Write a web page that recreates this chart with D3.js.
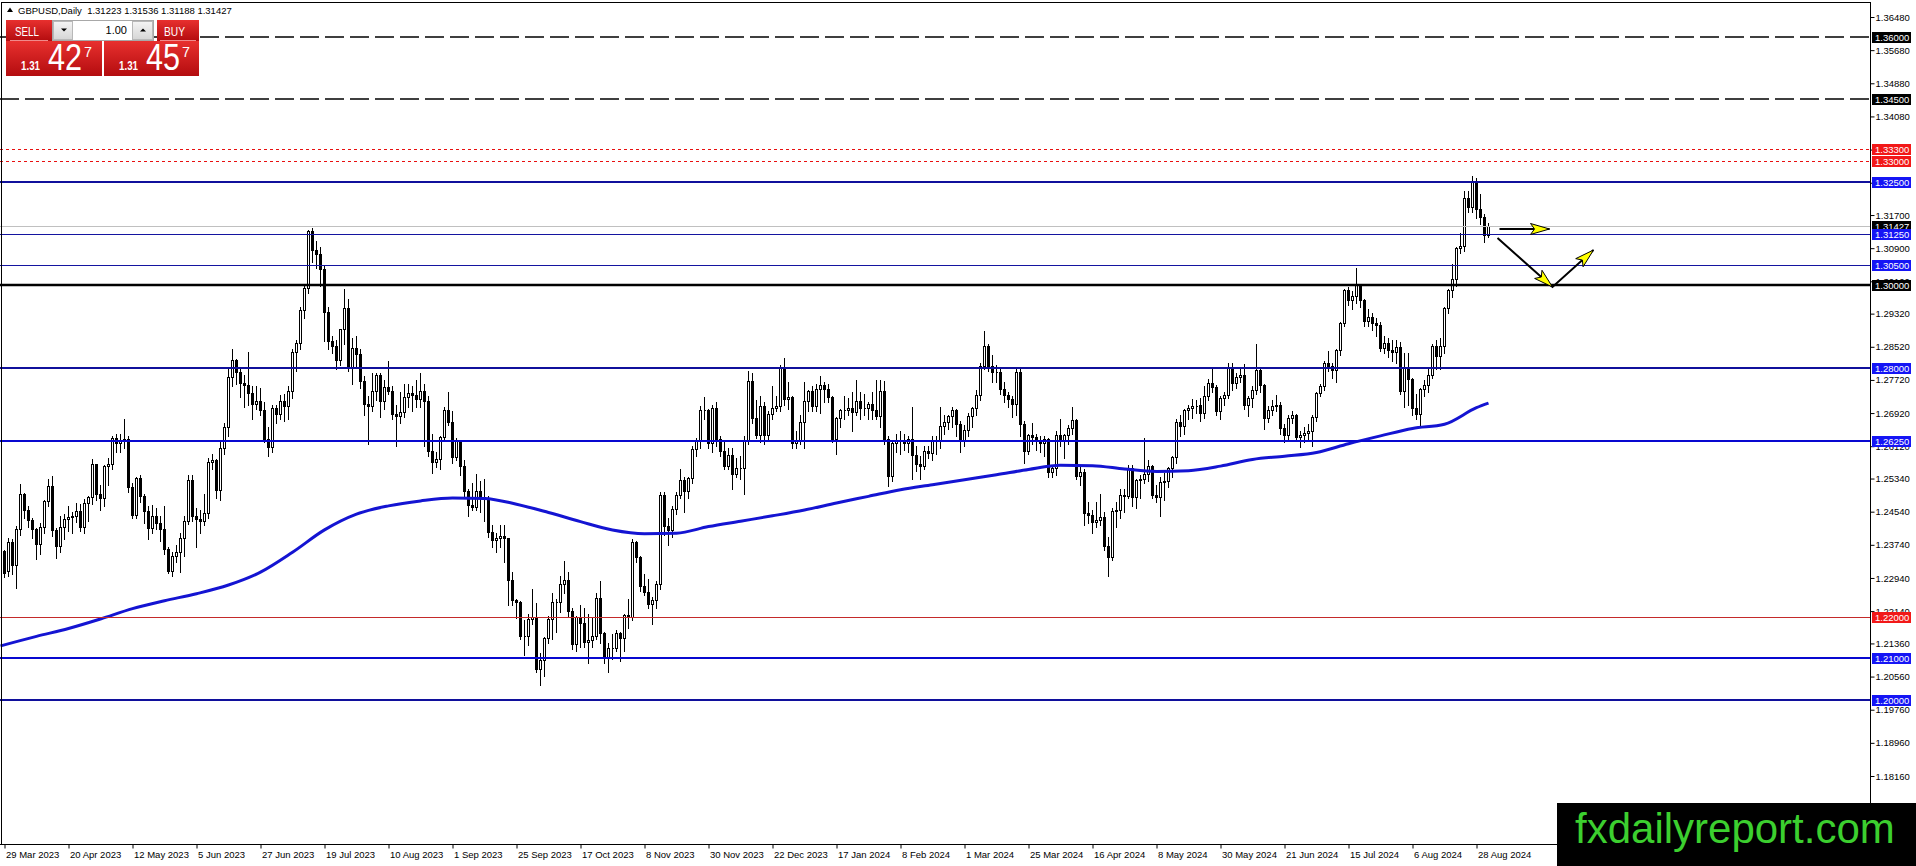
<!DOCTYPE html>
<html>
<head>
<meta charset="utf-8">
<script src="https://cdn.jsdelivr.net/npm/d3@7"></script>
<style>
  body { margin: 0; background: #fff; }
  svg { display: block; }
  text { font-family: "Liberation Sans", Arial, sans-serif; }
</style>
</head>
<body>
<svg id="chart" width="1916" height="866"></svg>
<script>
// GBPUSD daily, 29 Mar 2023 .. 2 Sep 2024, values in pips (price = 1 + v * 0.0001)
var PIP = 0.0001;

var opens = [
  2358,2310,2380,2325,2412,2496,2458,2434,2412,2375,
  2418,2479,2516,2409,2372,2418,2436,2440,2443,2455,
  2418,2475,2490,2568,2496,2486,2565,2568,2632,2619,
  2627,2630,2513,2446,2535,2493,2455,2415,2443,2427,
  2413,2363,2311,2347,2356,2391,2431,2530,2444,2437,
  2432,2450,2575,2578,2506,2607,2659,2780,2820,2790,
  2765,2760,2740,2715,2720,2700,2630,2610,2705,2690,
  2720,2710,2745,2840,2860,2940,2993,3132,3085,3075,
  3040,2935,2865,2855,2820,2895,2945,2800,2850,2835,
  2770,2715,2710,2745,2785,2720,2755,2745,2690,2685,
  2695,2730,2740,2735,2725,2745,2720,2600,2575,2580,
  2635,2700,2670,2585,2625,2565,2505,2470,2465,2505,
  2490,2485,2405,2385,2390,2395,2390,2290,2240,2235,
  2155,2155,2195,2200,2075,2095,2150,2195,2235,2235,
  2280,2290,2215,2135,2200,2185,2140,2145,2155,2245,
  2160,2100,2125,2125,2160,2150,2205,2200,2380,2345,
  2275,2260,2230,2240,2280,2495,2420,2410,2460,2495,
  2530,2505,2535,2605,2625,2700,2700,2620,2705,2630,
  2600,2565,2590,2545,2560,2560,2625,2770,2680,2640,
  2710,2640,2690,2705,2710,2800,2725,2730,2620,2625,
  2670,2720,2745,2710,2750,2760,2750,2730,2630,2680,
  2700,2700,2705,2695,2720,2705,2705,2715,2700,2685,
  2745,2630,2540,2620,2625,2628,2620,2630,2590,2570,
  2565,2600,2595,2625,2628,2660,2670,2685,2700,2665,
  2625,2650,2685,2705,2735,2805,2855,2805,2790,2792,
  2750,2735,2725,2715,2790,2665,2600,2640,2635,2625,
  2620,2630,2550,2560,2640,2625,2640,2655,2675,2540,
  2550,2450,2445,2430,2435,2440,2370,2345,2455,2458,
  2495,2493,2560,2490,2530,2532,2545,2565,2495,2490,
  2525,2528,2560,2585,2670,2660,2700,2705,2708,2712,
  2692,2732,2764,2756,2696,2728,2736,2800,2764,2780,
  2784,2712,2728,2748,2796,2760,2680,2700,2708,2712,
  2655,2640,2680,2688,2635,2640,2645,2648,2683,2740,
  2758,2812,2805,2795,2845,2910,2990,2965,2975,3000,
  2965,2915,2925,2910,2905,2850,2860,2845,2840,2852,
  2745,2800,2775,2705,2690,2750,2760,2785,2855,2830,
  2855,2945,2990,3015,3090,3095,3212,3190,3250,3185,
  3165,3122
];

var highs = [
  2365,2392,2390,2422,2523,2502,2470,2440,2418,2428,
  2485,2535,2543,2418,2447,2450,2471,2456,2477,2475,
  2486,2495,2583,2570,2520,2570,2586,2640,2645,2645,
  2680,2640,2525,2540,2545,2500,2470,2472,2465,2447,
  2470,2370,2360,2375,2405,2445,2545,2545,2465,2460,
  2500,2585,2595,2583,2625,2670,2800,2848,2825,2800,
  2786,2842,2760,2760,2755,2720,2660,2715,2715,2738,
  2740,2760,2848,2870,2950,3000,3137,3142,3110,3095,
  3050,2950,2880,2870,2898,2995,2970,2875,2880,2850,
  2785,2735,2790,2790,2790,2775,2820,2760,2715,2745,
  2765,2765,2760,2775,2790,2765,2735,2645,2600,2640,
  2710,2745,2700,2635,2630,2580,2510,2525,2548,2530,
  2535,2495,2425,2405,2425,2425,2392,2310,2245,2240,
  2195,2210,2270,2235,2115,2155,2205,2260,2245,2300,
  2337,2310,2225,2205,2230,2225,2210,2200,2260,2290,
  2165,2140,2160,2170,2165,2210,2245,2390,2385,2350,
  2305,2295,2250,2290,2505,2505,2440,2470,2505,2560,
  2540,2540,2615,2635,2712,2733,2705,2715,2720,2640,
  2630,2610,2610,2585,2590,2640,2795,2790,2725,2735,
  2720,2700,2760,2735,2810,2827,2770,2736,2650,2690,
  2770,2750,2760,2765,2785,2770,2765,2735,2685,2705,
  2735,2730,2745,2775,2745,2740,2720,2745,2775,2775,
  2772,2640,2630,2645,2650,2645,2640,2710,2615,2590,
  2615,2615,2640,2640,2710,2690,2690,2710,2705,2675,
  2665,2695,2710,2750,2815,2893,2860,2835,2810,2800,
  2770,2745,2735,2805,2805,2675,2645,2670,2645,2640,
  2640,2635,2570,2650,2680,2645,2665,2710,2680,2570,
  2560,2480,2460,2480,2500,2455,2395,2465,2480,2510,
  2510,2570,2570,2535,2545,2635,2580,2570,2520,2540,
  2550,2565,2590,2680,2690,2705,2715,2728,2725,2730,
  2760,2776,2800,2762,2735,2745,2816,2815,2790,2800,
  2812,2735,2760,2860,2800,2765,2712,2725,2738,2720,
  2668,2690,2700,2692,2650,2660,2668,2690,2745,2765,
  2820,2845,2815,2850,2915,2995,2998,2990,3044,3005,
  2970,2945,2935,2925,2915,2880,2875,2870,2870,2865,
  2840,2840,2780,2740,2755,2775,2800,2862,2870,2875,
  2950,2995,3054,3095,3130,3230,3230,3266,3262,3222,
  3175,3154
];

var lows = [
  2298,2300,2305,2273,2400,2440,2420,2393,2342,2355,
  2405,2470,2398,2345,2360,2390,2410,2405,2432,2410,
  2405,2435,2475,2484,2460,2470,2520,2560,2600,2600,
  2610,2505,2440,2440,2480,2430,2390,2405,2415,2385,
  2355,2308,2300,2335,2310,2349,2426,2434,2370,2405,
  2425,2440,2560,2490,2485,2595,2640,2760,2765,2734,
  2710,2715,2680,2705,2690,2625,2590,2600,2670,2680,
  2675,2680,2730,2795,2850,2925,2985,3060,3045,3000,
  2868,2850,2840,2800,2810,2860,2795,2765,2805,2755,
  2690,2620,2700,2725,2685,2705,2740,2680,2615,2670,
  2685,2710,2700,2710,2710,2615,2590,2550,2565,2560,
  2630,2665,2575,2580,2545,2490,2445,2460,2460,2455,
  2435,2395,2370,2360,2370,2335,2230,2230,2200,2150,
  2110,2135,2185,2070,2037,2060,2140,2150,2165,2215,
  2260,2205,2125,2120,2130,2130,2090,2130,2150,2140,
  2090,2070,2100,2120,2095,2120,2175,2195,2335,2265,
  2255,2225,2186,2225,2270,2400,2375,2395,2450,2490,
  2455,2490,2525,2590,2610,2680,2610,2600,2615,2590,
  2560,2560,2510,2540,2535,2500,2620,2670,2635,2625,
  2620,2630,2680,2700,2700,2715,2705,2610,2610,2620,
  2610,2700,2700,2700,2695,2720,2720,2625,2595,2660,
  2680,2690,2650,2690,2680,2690,2680,2680,2680,2660,
  2620,2518,2530,2600,2595,2605,2600,2535,2555,2535,
  2560,2585,2580,2595,2610,2645,2655,2660,2640,2600,
  2615,2640,2660,2690,2725,2800,2795,2770,2770,2740,
  2720,2710,2685,2690,2640,2575,2595,2620,2605,2600,
  2590,2540,2540,2545,2615,2585,2620,2645,2535,2520,
  2425,2430,2405,2420,2425,2365,2300,2340,2420,2440,
  2455,2490,2470,2465,2490,2525,2530,2490,2480,2445,
  2485,2515,2540,2575,2640,2643,2680,2683,2695,2676,
  2683,2725,2745,2690,2680,2715,2730,2750,2755,2770,
  2705,2688,2710,2740,2745,2655,2672,2690,2700,2645,
  2624,2630,2670,2630,2613,2625,2630,2615,2675,2735,
  2750,2795,2780,2770,2835,2905,2955,2945,2960,2950,
  2905,2905,2895,2880,2845,2840,2830,2820,2815,2740,
  2710,2715,2690,2680,2665,2735,2745,2780,2800,2800,
  2840,2935,2975,3000,3080,3085,3180,3180,3165,3150,
  3108,3119
];

var closes = [
  2305,2380,2325,2412,2496,2458,2434,2412,2375,2418,
  2479,2516,2409,2372,2418,2436,2440,2443,2455,2418,
  2475,2490,2568,2496,2486,2565,2568,2632,2619,2627,
  2630,2513,2446,2535,2493,2455,2415,2443,2427,2413,
  2363,2311,2347,2356,2391,2431,2530,2444,2437,2432,
  2450,2575,2578,2506,2607,2659,2780,2820,2790,2765,
  2760,2740,2715,2720,2700,2630,2610,2705,2690,2720,
  2710,2745,2840,2860,2940,2993,3132,3085,3075,3040,
  2935,2865,2855,2820,2895,2945,2800,2850,2835,2770,
  2715,2710,2745,2785,2720,2755,2745,2690,2685,2695,
  2730,2740,2735,2725,2745,2720,2600,2575,2580,2635,
  2700,2670,2585,2625,2565,2505,2470,2465,2505,2490,
  2485,2405,2385,2390,2395,2390,2290,2240,2235,2155,
  2155,2195,2200,2075,2095,2150,2195,2235,2235,2280,
  2290,2215,2135,2200,2185,2140,2145,2155,2245,2160,
  2100,2125,2125,2160,2150,2205,2200,2380,2345,2275,
  2260,2230,2240,2280,2495,2420,2410,2460,2495,2530,
  2505,2535,2605,2625,2700,2700,2620,2705,2630,2600,
  2565,2590,2545,2560,2560,2625,2770,2680,2640,2710,
  2640,2690,2705,2710,2800,2725,2730,2620,2625,2670,
  2720,2745,2710,2750,2760,2750,2730,2630,2680,2700,
  2700,2705,2695,2720,2705,2705,2715,2700,2685,2745,
  2630,2540,2620,2625,2628,2620,2630,2590,2570,2565,
  2600,2595,2625,2628,2660,2670,2685,2700,2665,2625,
  2650,2685,2705,2735,2805,2855,2805,2790,2792,2750,
  2735,2725,2715,2790,2665,2600,2640,2635,2625,2620,
  2630,2550,2560,2640,2625,2640,2655,2675,2540,2550,
  2450,2445,2430,2435,2440,2370,2345,2455,2458,2495,
  2493,2560,2490,2530,2532,2545,2565,2495,2490,2525,
  2528,2560,2585,2670,2660,2700,2705,2708,2710,2692,
  2732,2764,2756,2696,2728,2736,2800,2764,2780,2784,
  2712,2728,2748,2796,2760,2680,2700,2708,2712,2655,
  2640,2680,2688,2635,2640,2645,2648,2683,2740,2758,
  2812,2805,2795,2845,2910,2990,2965,2975,3000,2965,
  2915,2925,2910,2905,2850,2860,2845,2840,2852,2745,
  2800,2775,2705,2690,2750,2760,2785,2855,2830,2855,
  2945,2990,3015,3090,3095,3212,3190,3250,3185,3165,
  3122,3143
];

// 200-day moving average: [bar, pips]
var ma200 = [
  [-1,2130],[8,2153],[16,2172],[24,2195],[32,2220],[40,2239],[48,2256],[56,2277],
  [64,2308],[72,2356],[80,2410],[88,2448],[96,2468],[104,2480],[112,2487],[120,2486],
  [128,2472],[136,2452],[144,2430],[152,2410],[160,2401],[168,2402],[176,2418],[184,2431],
  [192,2444],[200,2458],[208,2475],[216,2491],[224,2507],[232,2519],[240,2531],[248,2543],
  [256,2556],[264,2566],[272,2565],[280,2557],[288,2551],[296,2553],[304,2564],[312,2580],
  [320,2588],[328,2597],[336,2618],[344,2637],[352,2655],[360,2665],[368,2705],[371,2716]
];

var yTickLabels = ["1.36480","1.35680","1.34880","1.34080","1.33280","1.32480","1.31700","1.30900",
  "1.30100","1.29320","1.28520","1.27720","1.26920","1.26120","1.25340","1.24540","1.23740",
  "1.22940","1.22140","1.21360","1.20560","1.19760","1.18960","1.18160"];

var xTickBars = [0,16,32,48,64,80,96,112,128,144,160,176,192,208,224,240,256,272,288,304,320,336,352,368];
var xTickLabels = ["29 Mar 2023","20 Apr 2023","12 May 2023","5 Jun 2023","27 Jun 2023","19 Jul 2023",
  "10 Aug 2023","1 Sep 2023","25 Sep 2023","17 Oct 2023","8 Nov 2023","30 Nov 2023","22 Dec 2023",
  "17 Jan 2024","8 Feb 2024","1 Mar 2024","25 Mar 2024","16 Apr 2024","8 May 2024","30 May 2024",
  "21 Jun 2024","15 Jul 2024","6 Aug 2024","28 Aug 2024"];

var levelPrices = [1.36000, 1.34500, 1.33300, 1.33000, 1.32500, 1.31250, 1.30500, 1.30000,
  1.28000, 1.26250, 1.22000, 1.21000, 1.20000];
var levelKinds = ["dash","dash","dot","dot","navy","thin","thin","black","navy","blue","red","blue","navy"];

var bidPrice = 1.31427;
var headerText = "GBPUSD,Daily  1.31223 1.31536 1.31188 1.31427";
var sellQuote = ["1.31", "42", "7"];
var buyQuote = ["1.31", "45", "7"];
var lotSize = "1.00";

// drawn arrows, as [bar, price] points
var arrowPaths = [
  [[373.75, 1.31363], [386.25, 1.31363]],
  [[373.25, 1.31146], [387.0, 1.29963], [397.25, 1.30856]]
];

var watermark = "fxdailyreport.com";

var levelStyle = {
  dash:  { stroke: "#000000", width: 1.6, dash: "19,6", label: "#000000" },
  dot:   { stroke: "#e81010", width: 1,   dash: "3,3",  label: "#f21818" },
  navy:  { stroke: "#10109c", width: 2.2, dash: null,   label: "#1515f5" },
  blue:  { stroke: "#0808d0", width: 2.2, dash: null,   label: "#1515f5" },
  thin:  { stroke: "#1414a0", width: 1,   dash: null,   label: "#1515f5" },
  black: { stroke: "#000000", width: 2.5, dash: null,   label: "#000000" },
  red:   { stroke: "#c42a2a", width: 1,   dash: null,   label: "#f21818" }
};

var W = 1916, H = 866;
var plotRight = 1870, plotTop = 3, plotBottom = 845;

var toPrice = function (v) { return 1 + v * PIP; };
var x = d3.scaleLinear().domain([0, 371]).range([4.5, 1488.5]);
var y = d3.scaleLinear().domain([1.3648, 1.1816]).range([17, 776]);
var py = function (p) { return Math.round(y(p)) + 0.5; };

var svg = d3.select("#chart");
svg.append("rect").attr("width", W).attr("height", H).attr("fill", "#fff");

var defs = svg.append("defs");
defs.append("clipPath").attr("id", "plotClip").append("rect")
    .attr("x", 0).attr("y", plotTop).attr("width", plotRight).attr("height", plotBottom - plotTop);
var grad = defs.append("linearGradient").attr("id", "redGrad")
    .attr("x1", 0).attr("y1", 0).attr("x2", 0).attr("y2", 1);
grad.append("stop").attr("offset", 0).attr("stop-color", "#e8302e");
grad.append("stop").attr("offset", 1).attr("stop-color", "#b30c0f");
var grey = defs.append("linearGradient").attr("id", "greyGrad")
    .attr("x1", 0).attr("y1", 0).attr("x2", 0).attr("y2", 1);
grey.append("stop").attr("offset", 0).attr("stop-color", "#f4f4f4");
grey.append("stop").attr("offset", 1).attr("stop-color", "#d6d6d6");

var plot = svg.append("g").attr("clip-path", "url(#plotClip)");

// candles
var n = Math.min(opens.length, highs.length, lows.length, closes.length);
var bars = d3.range(n).map(function (i) {
    return { i: i, o: toPrice(opens[i]), h: toPrice(highs[i]), l: toPrice(lows[i]), c: toPrice(closes[i]) };
});
var cg = plot.append("g").attr("shape-rendering", "crispEdges");
cg.selectAll("line.wick").data(bars).join("line")
    .attr("class", "wick")
    .attr("x1", function (d) { return x(d.i); })
    .attr("x2", function (d) { return x(d.i); })
    .attr("y1", function (d) { return py(d.h); })
    .attr("y2", function (d) { return py(d.l) + 1; })
    .attr("stroke", "#000");
cg.selectAll("path.body").data(bars).join("path")
    .attr("class", "body")
    .attr("d", function (d) {
        var t = py(Math.max(d.o, d.c)), b = py(Math.min(d.o, d.c)), cx = x(d.i);
        return "M" + (cx - 1) + "," + t + "H" + (cx + 1) + "V" + b + "H" + (cx - 1) + "Z";
    })
    .attr("fill", function (d) { return d.c >= d.o ? "#fff" : "#000"; })
    .attr("stroke", "#000");

// moving average
var maLine = d3.line()
    .x(function (d) { return x(d[0]); })
    .y(function (d) { return y(toPrice(d[1])); })
    .curve(d3.curveMonotoneX);
plot.append("path").attr("d", maLine(ma200))
    .attr("fill", "none").attr("stroke", "#1414d2").attr("stroke-width", 3)
    .attr("stroke-linejoin", "round");

// bid line
plot.append("line")
    .attr("x1", 0).attr("x2", plotRight)
    .attr("y1", py(bidPrice)).attr("y2", py(bidPrice))
    .attr("stroke", "#c0c0c0").attr("shape-rendering", "crispEdges");

// horizontal levels
levelPrices.forEach(function (p, k) {
    var st = levelStyle[levelKinds[k]];
    var yy = st.width % 2 === 1 ? py(p) : Math.round(y(p));
    var ln = plot.append("line")
        .attr("x1", 0).attr("x2", plotRight)
        .attr("y1", yy).attr("y2", yy)
        .attr("stroke", st.stroke).attr("stroke-width", st.width);
    if (st.dash) ln.attr("stroke-dasharray", st.dash);
});

// arrows
var ag = plot.append("g");
arrowPaths.forEach(function (pts) {
    var xy = pts.map(function (p) { return [x(p[0]), y(p[1])]; });
    ag.append("path").attr("d", d3.line()(xy))
        .attr("fill", "none").attr("stroke", "#000").attr("stroke-width", 2);
    for (var s = 1; s < xy.length; s++) {
        var a = xy[s - 1], b = xy[s];
        var dx = b[0] - a[0], dy = b[1] - a[1], len = Math.sqrt(dx * dx + dy * dy);
        var ux = dx / len, uy = dy / len, nx = -uy, ny = ux;
        var L = 19, w = 5.5, notch = 4;
        var head = [
            [b[0], b[1]],
            [b[0] - ux * L + nx * w, b[1] - uy * L + ny * w],
            [b[0] - ux * (L - notch), b[1] - uy * (L - notch)],
            [b[0] - ux * L - nx * w, b[1] - uy * L - ny * w]
        ];
        ag.append("path").attr("d", d3.line()(head) + "Z")
            .attr("fill", "#ffff00").attr("stroke", "#000").attr("stroke-width", 1)
            .attr("stroke-linejoin", "miter");
    }
});

// frame
svg.append("path")
    .attr("d", "M1.5," + plotBottom + "V2.5H" + (plotRight + 0.5) + "V" + plotBottom)
    .attr("fill", "none").attr("stroke", "#000").attr("shape-rendering", "crispEdges");

// price axis
var yAxis = d3.axisRight(y)
    .tickValues(yTickLabels.map(Number))
    .tickFormat(function (d, i) { return yTickLabels[i]; })
    .tickSize(4).tickPadding(1);
var yg = svg.append("g").attr("transform", "translate(" + (plotRight + 0.5) + ",0)").call(yAxis);
yg.select(".domain").remove();
yg.selectAll("text").attr("font-size", "9.5px").attr("fill", "#000")
    .attr("font-family", "'Liberation Sans', Arial, sans-serif");
yg.selectAll(".tick line").attr("stroke", "#000");

// time axis
var xAxis = d3.axisBottom(x)
    .tickValues(xTickBars)
    .tickFormat(function (d, i) { return xTickLabels[i]; })
    .tickSize(4).tickPadding(3);
var xg = svg.append("g").attr("transform", "translate(0," + (plotBottom - 0.5) + ")").call(xAxis);
xg.select(".domain").remove();
xg.selectAll("text").attr("font-size", "9.5px").attr("fill", "#000")
    .attr("text-anchor", "start").attr("x", 1)
    .attr("font-family", "'Liberation Sans', Arial, sans-serif");
xg.selectAll(".tick line").attr("stroke", "#000");
svg.append("line").attr("x1", 0).attr("x2", plotRight + 0.5)
    .attr("y1", plotBottom - 0.5).attr("y2", plotBottom - 0.5)
    .attr("stroke", "#000").attr("shape-rendering", "crispEdges");

// price labels on the axis
function priceTag(p, bg) {
    var yy = Math.round(y(p));
    svg.append("rect").attr("x", 1872).attr("y", yy - 5).attr("width", 39).attr("height", 11)
        .attr("fill", bg);
    svg.append("text").attr("x", 1875).attr("y", yy + 3.5)
        .attr("font-size", "9.5px").attr("fill", "#fff")
        .text(p.toFixed(5));
}
priceTag(bidPrice, "#000");
levelPrices.forEach(function (p, k) { priceTag(p, levelStyle[levelKinds[k]].label); });

// header
svg.append("path").attr("d", "M7,12L10,7.5L13,12Z").attr("fill", "#000");
svg.append("text").attr("x", 18).attr("y", 14).attr("font-size", "9.5px")
    .attr("fill", "#000").attr("xml:space", "preserve").style("white-space", "pre")
    .text(headerText);

// one-click trading panel
var panel = svg.append("g");
var narrow = "'Liberation Sans Narrow', 'Liberation Sans', Arial, sans-serif";
function fitText(sel, w) {
    return sel.attr("textLength", w).attr("lengthAdjust", "spacingAndGlyphs");
}
panel.append("rect").attr("x", 6).attr("y", 20).attr("width", 46).attr("height", 21).attr("fill", "url(#redGrad)");
panel.append("rect").attr("x", 157).attr("y", 20).attr("width", 42).attr("height", 21).attr("fill", "url(#redGrad)");
panel.append("rect").attr("x", 52.5).attr("y", 20.5).attr("width", 101).attr("height", 20)
    .attr("fill", "#fff").attr("stroke", "#a8a8a8");
panel.append("rect").attr("x", 53.5).attr("y", 21.5).attr("width", 19).attr("height", 18)
    .attr("fill", "url(#greyGrad)").attr("stroke", "#b8b8b8");
panel.append("rect").attr("x", 132.5).attr("y", 21.5).attr("width", 20).attr("height", 18)
    .attr("fill", "url(#greyGrad)").attr("stroke", "#b8b8b8");
panel.append("path").attr("d", "M61,28.5H67L64,31.5Z").attr("fill", "#000");
panel.append("path").attr("d", "M140,31.5H146L143,28.5Z").attr("fill", "#000");
panel.append("text").attr("x", 127).attr("y", 34).attr("text-anchor", "end")
    .attr("font-size", "11px").attr("fill", "#000").text(lotSize);
fitText(panel.append("text").attr("x", 15).attr("y", 36)
    .attr("font-family", narrow).attr("font-size", "13px").attr("fill", "#fff").text("SELL"), 24);
fitText(panel.append("text").attr("x", 164).attr("y", 36)
    .attr("font-family", narrow).attr("font-size", "13px").attr("fill", "#fff").text("BUY"), 21);
panel.append("line").attr("x1", 10).attr("x2", 48).attr("y1", 40.5).attr("y2", 40.5).attr("stroke", "#f08a8a");
panel.append("line").attr("x1", 160).attr("x2", 196).attr("y1", 40.5).attr("y2", 40.5).attr("stroke", "#f08a8a");

function quoteBox(x0, w, q) {
    panel.append("rect").attr("x", x0).attr("y", 41).attr("width", w).attr("height", 35)
        .attr("fill", "url(#redGrad)");
    fitText(panel.append("text").attr("x", x0 + 15).attr("y", 70).attr("font-family", narrow)
        .attr("font-weight", "bold").attr("font-size", "13px").attr("fill", "#fff").text(q[0]), 19);
    fitText(panel.append("text").attr("x", x0 + 42).attr("y", 70).attr("font-family", narrow)
        .attr("font-size", "37px").attr("fill", "#fff").text(q[1]), 34);
    fitText(panel.append("text").attr("x", x0 + 78).attr("y", 57).attr("font-family", narrow)
        .attr("font-size", "14px").attr("fill", "#fff").text(q[2]), 8);
}
quoteBox(6, 96, sellQuote);
quoteBox(104, 95, buyQuote);

// watermark
svg.append("rect").attr("x", 1557).attr("y", 803).attr("width", W - 1557).attr("height", H - 803)
    .attr("fill", "#000");
svg.append("text").attr("x", 1575).attr("y", 843).attr("font-size", "42px")
    .attr("fill", "#3ccf2f").text(watermark);
</script>
</body>
</html>
